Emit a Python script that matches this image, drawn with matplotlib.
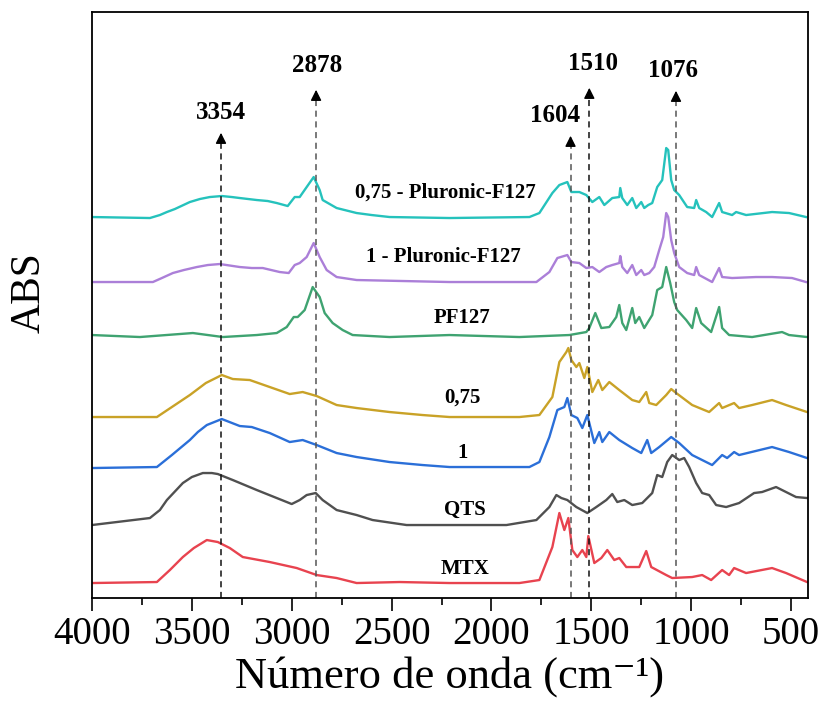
import matplotlib
matplotlib.use("Agg")
import matplotlib.pyplot as plt
from matplotlib.ticker import MultipleLocator

plt.rcParams['font.family'] = ['Liberation Serif', 'DejaVu Serif']

# FTIR spectra: wavenumber (cm-1) and absorbance above each trace's own baseline
wn_cyan = [4000, 3710, 3660, 3625, 3585, 3510, 3460, 3410, 3350, 3300, 3260, 3175, 3120, 3075, 3020,
           2985, 2960, 2925, 2890, 2860, 2845, 2775, 2675, 2600, 2510, 2210, 1810, 1760, 1695, 1660,
           1620, 1600, 1560, 1525, 1495, 1460, 1435, 1395, 1360, 1355, 1345, 1320, 1295, 1275, 1250,
           1235, 1215, 1195, 1170, 1145, 1125, 1115, 1100, 1085, 1060, 1020, 985, 975, 960, 925,
           895, 860, 845, 795, 775, 725, 595, 510, 425]
abs_cyan = [0, -0.01, 0.02, 0.05, 0.08, 0.15, 0.18, 0.20, 0.21, 0.20, 0.19, 0.17, 0.16, 0.14, 0.11,
            0.20, 0.20, 0.30, 0.40, 0.27, 0.17, 0.09, 0.04, 0.02, 0, -0.01, 0, 0.04, 0.24, 0.32,
            0.35, 0.25, 0.25, 0.22, 0.15, 0.20, 0.12, 0.19, 0.20, 0.29, 0.19, 0.12, 0.19, 0.09, 0.15,
            0.09, 0.12, 0.14, 0.30, 0.37, 0.69, 0.67, 0.37, 0.27, 0.22, 0.10, 0.09, 0.17, 0.09, 0.05,
            0, 0.14, 0.05, 0.02, 0.05, 0.02, 0.05, 0.04, 0]

wn_purple = [4000, 3695, 3650, 3595, 3540, 3475, 3420, 3360, 3260, 3200, 3145, 3060, 3015, 2985, 2960,
             2925, 2890, 2860, 2825, 2775, 2675, 2210, 1775, 1710, 1670, 1620, 1600, 1560, 1525, 1495,
             1460, 1425, 1395, 1360, 1355, 1345, 1320, 1295, 1275, 1250, 1235, 1210, 1185, 1160, 1140,
             1125, 1115, 1100, 1085, 1060, 1020, 985, 975, 960, 895, 860, 845, 795, 675, 595, 495, 425]
abs_purple = [0, 0, 0.04, 0.09, 0.12, 0.15, 0.17, 0.18, 0.15, 0.14, 0.14, 0.10, 0.09, 0.17, 0.19,
              0.25, 0.39, 0.25, 0.12, 0.05, 0.02, 0, 0, 0.10, 0.24, 0.27, 0.20, 0.19, 0.14, 0.15,
              0.10, 0.15, 0.17, 0.19, 0.26, 0.15, 0.09, 0.17, 0.07, 0.12, 0.07, 0.09, 0.15, 0.32, 0.45,
              0.69, 0.65, 0.42, 0.29, 0.15, 0.09, 0.07, 0.15, 0.07, 0, 0.14, 0.05, 0.04, 0.05, 0.05, 0.04, 0]

wn_green = [4000, 3760, 3495, 3345, 3175, 3075, 3025, 2990, 2970, 2935, 2895, 2860, 2835, 2795, 2745,
            2695, 2510, 2210, 1860, 1610, 1525, 1510, 1480, 1450, 1410, 1375, 1360, 1345, 1325, 1295,
            1280, 1260, 1235, 1195, 1170, 1145, 1125, 1105, 1085, 1070, 1025, 995, 975, 950, 900,
            860, 845, 810, 695, 545, 510, 420]
abs_green = [0, -0.02, 0.02, -0.02, 0, 0.02, 0.08, 0.18, 0.18, 0.25, 0.48, 0.38, 0.22, 0.12, 0.05,
             0, -0.02, 0, -0.02, 0, 0.03, 0.07, 0.22, 0.07, 0.08, 0.18, 0.30, 0.12, 0.05, 0.27,
             0.12, 0.18, 0.07, 0.20, 0.45, 0.48, 0.68, 0.52, 0.33, 0.25, 0.15, 0.07, 0.27, 0.12, 0.03,
             0.28, 0.07, 0, -0.02, 0.03, 0, -0.02]

wn_yellow = [4000, 3675, 3600, 3510, 3430, 3350, 3295, 3210, 3110, 3010, 2945, 2875, 2775, 2675, 2510,
             2345, 2210, 1860, 1760, 1695, 1660, 1625, 1615, 1600, 1575, 1560, 1535, 1520, 1495, 1465,
             1445, 1410, 1360, 1295, 1260, 1225, 1210, 1175, 1125, 1100, 1075, 995, 910, 860, 845,
             785, 760, 695, 595, 525, 420]
abs_yellow = [0, 0, 0.10, 0.22, 0.34, 0.42, 0.38, 0.37, 0.30, 0.23, 0.25, 0.21, 0.12, 0.09, 0.05,
              0.02, 0, 0, 0.02, 0.20, 0.55, 0.65, 0.69, 0.57, 0.50, 0.54, 0.39, 0.50, 0.25, 0.37,
              0.27, 0.35, 0.27, 0.17, 0.15, 0.25, 0.14, 0.12, 0.22, 0.28, 0.24, 0.12, 0.05, 0.14, 0.09,
              0.14, 0.09, 0.12, 0.17, 0.12, 0.05]

wn_blue = [4000, 3675, 3600, 3510, 3470, 3425, 3350, 3260, 3200, 3110, 3010, 2945, 2875, 2775, 2675,
           2510, 2345, 2210, 1810, 1760, 1710, 1670, 1635, 1620, 1600, 1570, 1545, 1520, 1485, 1460,
           1445, 1410, 1360, 1295, 1250, 1220, 1200, 1160, 1100, 1060, 995, 895, 845, 820, 785,
           760, 595, 510, 420]
abs_blue = [0, 0.01, 0.13, 0.28, 0.36, 0.43, 0.49, 0.42, 0.41, 0.35, 0.26, 0.28, 0.23, 0.15, 0.11,
            0.06, 0.03, 0.01, 0.01, 0.06, 0.31, 0.58, 0.61, 0.70, 0.53, 0.50, 0.40, 0.53, 0.25, 0.36,
            0.26, 0.36, 0.28, 0.20, 0.15, 0.28, 0.15, 0.21, 0.31, 0.25, 0.13, 0.03, 0.13, 0.10, 0.16,
            0.13, 0.21, 0.16, 0.10]

wn_grey = [4000, 3710, 3660, 3625, 3545, 3500, 3445, 3400, 3370, 3295, 3175, 3075, 3000, 2960, 2925,
           2880, 2845, 2775, 2675, 2595, 2425, 2210, 1925, 1775, 1710, 1675, 1650, 1620, 1575, 1520,
           1475, 1425, 1395, 1370, 1335, 1295, 1245, 1195, 1170, 1145, 1120, 1095, 1060, 1035, 1010,
           975, 945, 910, 875, 825, 760, 685, 645, 575, 525, 475, 420]
abs_grey = [0, 0.07, 0.15, 0.25, 0.42, 0.48, 0.52, 0.52, 0.51, 0.45, 0.35, 0.27, 0.21, 0.25, 0.30,
            0.32, 0.25, 0.15, 0.10, 0.05, 0, 0, 0, 0.05, 0.18, 0.30, 0.27, 0.25, 0.18, 0.12,
            0.18, 0.25, 0.31, 0.23, 0.25, 0.20, 0.22, 0.32, 0.50, 0.48, 0.63, 0.70, 0.65, 0.67, 0.58,
            0.42, 0.32, 0.30, 0.20, 0.18, 0.22, 0.32, 0.33, 0.38, 0.33, 0.28, 0.27]

wn_red = [4000, 3675, 3610, 3545, 3490, 3425, 3370, 3310, 3245, 3110, 2975, 2875, 2775, 2675, 2460,
          2210, 1860, 1760, 1695, 1660, 1635, 1615, 1595, 1570, 1545, 1525, 1515, 1485, 1450, 1420,
          1385, 1360, 1325, 1260, 1225, 1200, 1125, 1095, 995, 945, 900, 845, 810, 785, 725,
          595, 525, 420]
abs_red = [0, 0.01, 0.13, 0.26, 0.35, 0.43, 0.41, 0.35, 0.26, 0.21, 0.15, 0.08, 0.05, 0, 0.01,
           0, 0, 0.03, 0.36, 0.70, 0.53, 0.65, 0.33, 0.26, 0.33, 0.26, 0.47, 0.20, 0.25, 0.33,
           0.23, 0.25, 0.16, 0.16, 0.32, 0.16, 0.08, 0.05, 0.06, 0.08, 0.03, 0.13, 0.08, 0.15, 0.10,
           0.15, 0.10, 0.01]

names = ['0,75 - Pluronic-F127', '1 - Pluronic-F127', 'PF127', '0,75', '1', 'QTS', 'MTX']
wavenumbers = [wn_cyan, wn_purple, wn_green, wn_yellow, wn_blue, wn_grey, wn_red]
absorbances = [abs_cyan, abs_purple, abs_green, abs_yellow, abs_blue, abs_grey, abs_red]
offsets = [3.81, 3.16, 2.63, 1.81, 1.30, 0.73, 0.15]
colors = ['#25C2BC', '#AB7FD8', '#3FA371', '#C9A227', '#2B6FD8', '#505050', '#E8434F']
label_pos = [(2230, 4.05), (2240, 3.41), (2145, 2.80), (2145, 2.00), (2145, 1.45), (2135, 0.88), (2130, 0.29)]

# marked bands: wavenumber, arrow tip height, label height, label x, line colour
peaks = [3354, 2878, 1604, 1510, 1076]
peak_tips = [4.68, 5.11, 4.65, 5.13, 5.10]
peak_text_y = [4.86, 5.33, 4.83, 5.35, 5.28]
peak_text_x = [3355, 2875, 1680, 1490, 1090]
peak_line_colors = ['#111111', '#555555', '#555555', '#111111', '#555555']

fig = plt.figure(figsize=(8.19, 7.2), dpi=100)
ax = fig.add_axes([0.1123, 0.1694, 0.8743, 0.8139])

for wn, a, off, c in zip(wavenumbers, absorbances, offsets, colors):
    ax.plot(wn, [v + off for v in a], color=c, lw=1.7)

for name, (tx, ty) in zip(names, label_pos):
    ax.text(tx, ty, name, fontsize=15, fontweight='bold', ha='center', va='center')

for p, tip, lty, ltx, lc in zip(peaks, peak_tips, peak_text_y, peak_text_x, peak_line_colors):
    ax.plot([p, p], [0, tip - 0.05], ls=(0, (4, 3)), color=lc, lw=1.1)
    ax.annotate('', xy=(p, tip), xytext=(p, tip - 0.14),
                arrowprops=dict(arrowstyle='-|>', color='black', lw=1.0, mutation_scale=16))
    ax.text(ltx, lty, str(p), fontsize=18, fontweight='bold', ha='center', va='center')

ax.set_xlim(4000, 415)
ax.set_ylim(0, 5.86)
ax.xaxis.set_major_locator(MultipleLocator(500))
ax.xaxis.set_minor_locator(MultipleLocator(250))
ax.set_yticks([])
ax.tick_params(axis='x', which='major', direction='out', length=9, width=1.2, labelsize=28, pad=4)
ax.tick_params(axis='x', which='minor', direction='out', length=5, width=1.2)
for s in ax.spines.values():
    s.set_linewidth(1.3)

ax.set_xlabel('Número de onda (cm⁻¹)', fontsize=32, labelpad=2)
ax.set_ylabel('ABS', fontsize=30)
ax.yaxis.set_label_coords(-0.06, 0.522)

fig.savefig('out.png', dpi=100)
